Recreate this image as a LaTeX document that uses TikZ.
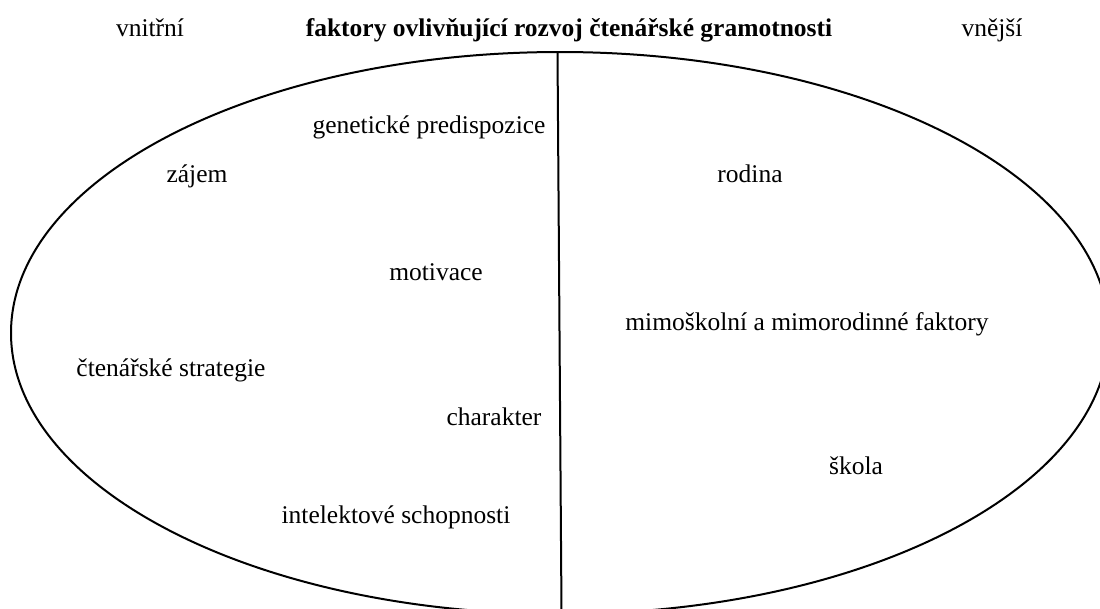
\documentclass[tikz,border=0pt]{standalone}
\usepackage{fontspec}
\setmainfont{Liberation Serif}
\begin{document}
\begin{tikzpicture}[x=1pt,y=-1pt,
  lbl/.style={inner sep=0pt,anchor=base,font=\fontsize{25.5}{30}\selectfont},
  ttl/.style={lbl,font=\fontsize{25.5}{30}\selectfont\bfseries},
  outline/.style={line width=2pt,black}]
\useasboundingbox (0,0) rectangle (1100,608);
\clip (0,0) rectangle (1100,608);
\draw[outline] (560,333) ellipse [x radius=549, y radius=281];
\coordinate (top) at (557.5,52);
\coordinate (bot) at (561.5,612);
\draw[outline] (top) -- (bot);
\node[lbl] (vn) at (150,36) {vnitřní};
\node[ttl] (title) at (569,36) {faktory ovlivňující rozvoj čtenářské gramotnosti};
\node[lbl] (ve) at (992,36) {vnější};
\node[lbl] (gen) at (429,133) {genetické predispozice};
\node[lbl] (zaj) at (197,182) {zájem};
\node[lbl] (rod) at (750,182) {rodina};
\node[lbl] (mot) at (436,280) {motivace};
\node[lbl] (mim) at (807,330) {mimoškolní a mimorodinné faktory};
\node[lbl] (str) at (171,376) {čtenářské strategie};
\node[lbl] (cha) at (494,425) {charakter};
\node[lbl] (sko) at (856,474) {škola};
\node[lbl] (int) at (396,523) {intelektové schopnosti};
\end{tikzpicture}
\end{document}
